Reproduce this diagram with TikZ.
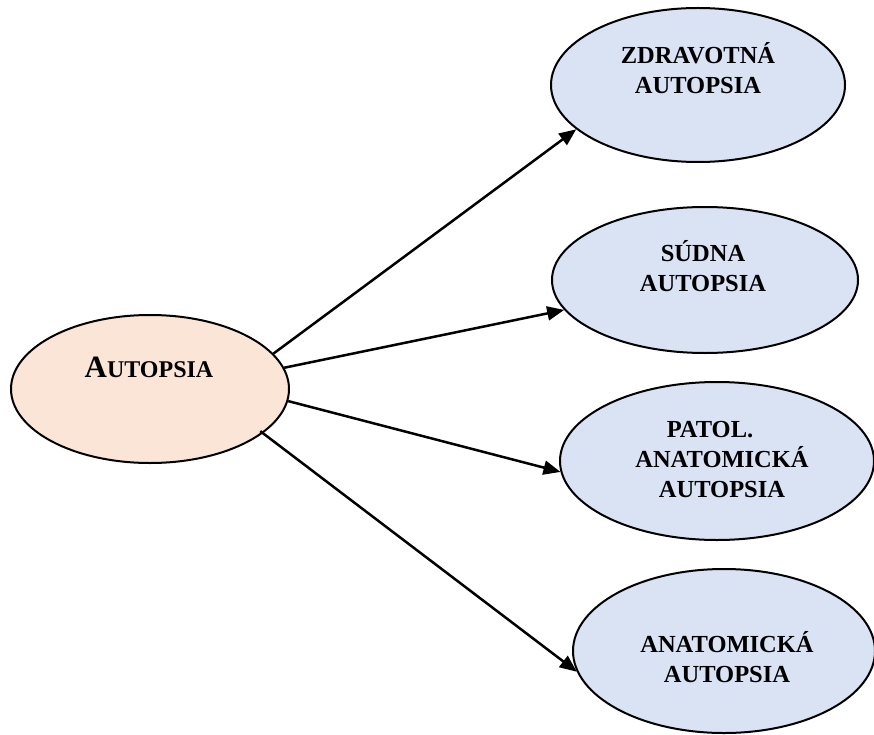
\documentclass[tikz,border=0pt]{standalone}
\usepackage{fontspec}
\setmainfont{Liberation Serif}
\usetikzlibrary{shapes.geometric,arrows.meta}
\definecolor{peach}{HTML}{FBE5D6}
\definecolor{paleblue}{HTML}{DAE3F3}
\begin{document}
\begin{tikzpicture}[x=1pt,y=-1pt,
  oval/.style={ellipse,draw=black,line width=2pt,inner sep=0pt},
  lbl/.style={align=center,font=\bfseries\fontsize{24.5}{30}\selectfont,inner sep=0pt},
  conn/.style={line width=2.5pt,-{Triangle[length=17pt,width=14pt]}}]
\useasboundingbox (0,0) rectangle (874,735);
% ellipses
\node[oval,fill=peach,minimum width=278pt,minimum height=148pt] (au) at (150,389) {};
\node[oval,fill=paleblue,minimum width=294pt,minimum height=154pt] (zd) at (698,85) {};
\node[oval,fill=paleblue,minimum width=306pt,minimum height=146pt] (su) at (705,280) {};
\node[oval,fill=paleblue,minimum width=314pt,minimum height=158pt] (pa) at (717,461) {};
\node[oval,fill=paleblue,minimum width=302pt,minimum height=164pt] (an) at (724,651) {};
% texts
\node[font=\bfseries,anchor=base,inner sep=0pt] (tau) at (149,377)
  {{\fontsize{31}{31}\selectfont A}{\fontsize{24}{24}\selectfont UTOPSIA}};
\node[lbl] (tzd) at (698,68) {ZDRAVOTNÁ\\AUTOPSIA};
\node[lbl] (tsu) at (703,266) {SÚDNA\\AUTOPSIA};
\node[lbl] (tpa) at (722,460) {PATOL.\hspace*{24pt}\\ANATOMICKÁ\\AUTOPSIA};
\node[lbl] (tan) at (727,657) {ANATOMICKÁ\\AUTOPSIA};
% connectors
\draw[conn] (au.16.9) -- (zd.200.4);
\draw[conn] (au.9.1) -- (su.192.1);
\draw[conn] (au.-5.8) -- (pa.184.8);
\draw[conn] ([xshift=-3.5pt,yshift=1.5pt]au.-21.1) -- (an.188.5);
\end{tikzpicture}
\end{document}
